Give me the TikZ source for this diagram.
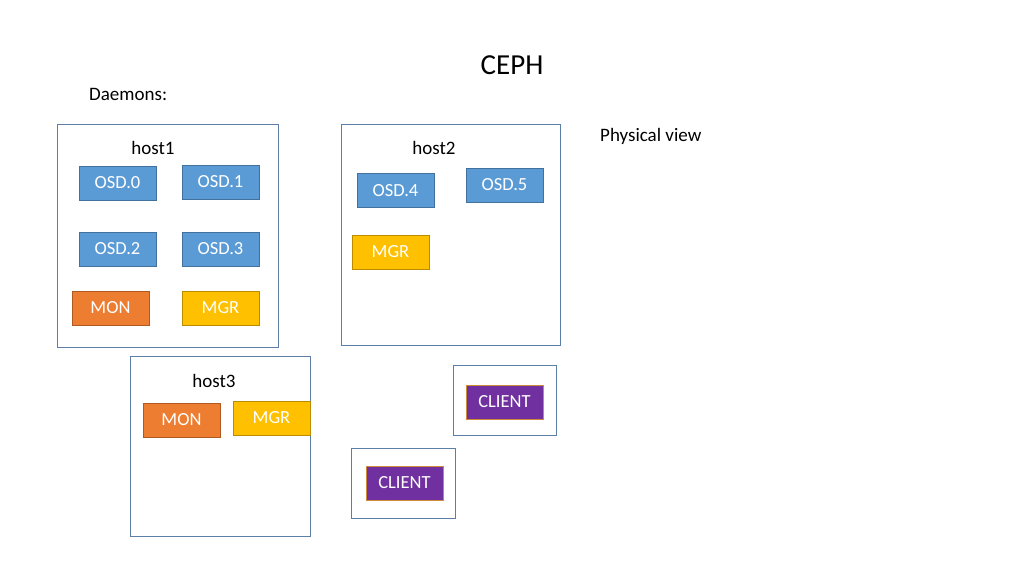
\documentclass[tikz,border=0pt]{standalone}
\usepackage{fontspec}
\setmainfont{Carlito}
\usepackage{tikz}
\usetikzlibrary{positioning}
\definecolor{Frame}{HTML}{5B7FA6}
\definecolor{OsdFill}{HTML}{5B9BD5}
\definecolor{OsdLine}{HTML}{41719C}
\definecolor{MonFill}{HTML}{ED7D31}
\definecolor{MonLine}{HTML}{AE5A21}
\definecolor{MgrFill}{HTML}{FFC000}
\definecolor{MgrLine}{HTML}{BC8C00}
\definecolor{CliFill}{HTML}{7030A0}
\definecolor{CliLine}{HTML}{D08A3A}
\tikzset{
  hostbox/.style={draw=Frame, line width=.9pt, fill=white, inner sep=0pt},
  daemon/.style={
    line width=.9pt, inner sep=0pt, minimum width=77pt, minimum height=34pt,
    text=white, font=\fontsize{18.5}{22}\selectfont
  },
  osd/.style={daemon,fill=OsdFill,draw=OsdLine},
  mon/.style={daemon,fill=MonFill,draw=MonLine},
  mgr/.style={daemon,fill=MgrFill,draw=MgrLine},
  client/.style={daemon,fill=CliFill,draw=CliLine},
  hostlabel/.style={font=\fontsize{19}{23}\selectfont,inner sep=0pt},
  note/.style={font=\fontsize{19}{23}\selectfont,inner sep=0pt,anchor=west}
}
\begin{document}
\begin{tikzpicture}[x=1pt,y=-1pt]
  \useasboundingbox[fill=white] (0,0) rectangle (1024,576);
  % titles
  \node[font=\fontsize{29}{35}\selectfont,inner sep=0pt] (title) at (512,65) {CEPH};
  \node[note] (daemons) at (89,94) {Daemons:};
  \node[note] (view) at (600,136) {Physical view};
  % host1
  \node[hostbox,minimum width=221pt,minimum height=223pt] (host1) at (167.5,235.5) {};
  \node[hostlabel] (h1) at (153,148) {host1};
  \node[osd] (osd0) at (117.5,183) {OSD.0};
  \node[osd] (osd1) at (220.5,182) {OSD.1};
  \node[osd] (osd2) at (117.5,249) {OSD.2};
  \node[osd] (osd3) at (220.5,249) {OSD.3};
  \node[mon] (mon1) at (110.5,308) {MON};
  \node[mgr] (mgr1) at (220.5,308) {MGR};
  % host2
  \node[hostbox,minimum width=219pt,minimum height=221pt] (host2) at (450.5,234.5) {};
  \node[hostlabel] (h2) at (434,148) {host2};
  \node[osd] (osd4) at (395.5,190.5) {OSD.4};
  \node[osd] (osd5) at (504.5,185) {OSD.5};
  \node[mgr] (mgr2) at (390.5,252) {MGR};
  % host3
  \node[hostbox,minimum width=180pt,minimum height=180pt] (host3) at (220,446) {};
  \node[hostlabel] (h3) at (214,381) {host3};
  \node[mon] (mon3) at (181.5,420) {MON};
  \node[mgr] (mgr3) at (271.5,418) {MGR};
  % clients
  \node[hostbox,minimum width=103pt,minimum height=70pt] (cbox1) at (504.5,400) {};
  \node[client] (cli1) at (504.5,402) {CLIENT};
  \node[hostbox,minimum width=104pt,minimum height=70pt] (cbox2) at (403,483) {};
  \node[client] (cli2) at (404.5,483) {CLIENT};
\end{tikzpicture}
\end{document}
